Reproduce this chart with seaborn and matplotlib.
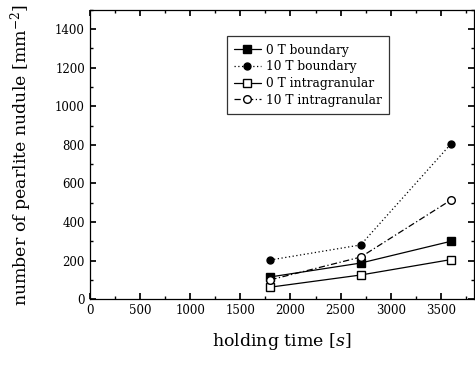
import matplotlib
matplotlib.use("Agg")
import matplotlib.pyplot as plt
import seaborn as sns
import pandas as pd
from matplotlib.ticker import MultipleLocator

sns.set_theme(style="ticks")
plt.rcParams['font.family'] = ['DejaVu Serif']
plt.rcParams['mathtext.fontset'] = 'dejavuserif'
plt.rcParams['text.color'] = 'black'
plt.rcParams['axes.labelcolor'] = 'black'
plt.rcParams['xtick.color'] = 'black'
plt.rcParams['ytick.color'] = 'black'

times = [1800, 2700, 3600]
b0 = [115, 187, 300]
b10 = [203, 281, 805]
i0 = [62, 125, 205]
i10 = [100, 218, 514]
labels = ["0 T boundary", "10 T boundary", "0 T intragranular", "10 T intragranular"]

series = [b0, b10, i0, i10]
styles = [
    dict(ls='-', marker='s', mfc='black', ms=5.5),
    dict(ls=(0, (1, 2)), marker='o', mfc='black', ms=5),
    dict(ls='-', marker='s', mfc='white', ms=5.5),
    dict(ls=(0, (5, 2, 1, 2)), marker='o', mfc='white', ms=5.5),
]

fig = plt.figure(figsize=(4.75, 3.67), dpi=100)
ax = fig.add_axes([0.189, 0.185, 0.809, 0.788])

for lab, vals, st in zip(labels, series, styles):
    df = pd.DataFrame({"t": times, "n": vals})
    sns.lineplot(data=df, x="t", y="n", ax=ax, color='black', lw=0.9,
                 linestyle=st['ls'], marker=st['marker'], markerfacecolor=st['mfc'],
                 markeredgecolor='black', markersize=st['ms'], markeredgewidth=1.0,
                 label=lab)

ax.set_xlim(0, 3830)
ax.set_ylim(0, 1500)
ax.xaxis.set_major_locator(MultipleLocator(500))
ax.xaxis.set_minor_locator(MultipleLocator(250))
ax.yaxis.set_major_locator(MultipleLocator(200))
ax.yaxis.set_minor_locator(MultipleLocator(100))
ax.tick_params(which='both', direction='in', top=True, right=True, labelsize=8.5,
               color='black', labelcolor='black')
ax.tick_params(which='major', length=4)
ax.tick_params(which='minor', length=2)
ax.set_yticks([0, 200, 400, 600, 800, 1000, 1200, 1400])
for s in ax.spines.values():
    s.set_color('black')
    s.set_linewidth(0.9)

ax.set_xlabel("holding time [$s$]", fontsize=12.5, labelpad=10, color='black')
ax.set_ylabel("number of pearlite nudule [mm$^{-2}$]", fontsize=12.5, color='black')
ax.yaxis.set_label_coords(-0.145, 0.5)

leg = ax.legend(loc='upper left', bbox_to_anchor=(0.34, 0.93), fontsize=8.8,
                frameon=True, fancybox=False, edgecolor='black', handlelength=2.2,
                borderpad=0.6, labelspacing=0.3, handletextpad=0.4)
leg.get_frame().set_linewidth(0.9)
for t in leg.get_texts():
    t.set_color('black')

fig.savefig("out.png", dpi=100)
